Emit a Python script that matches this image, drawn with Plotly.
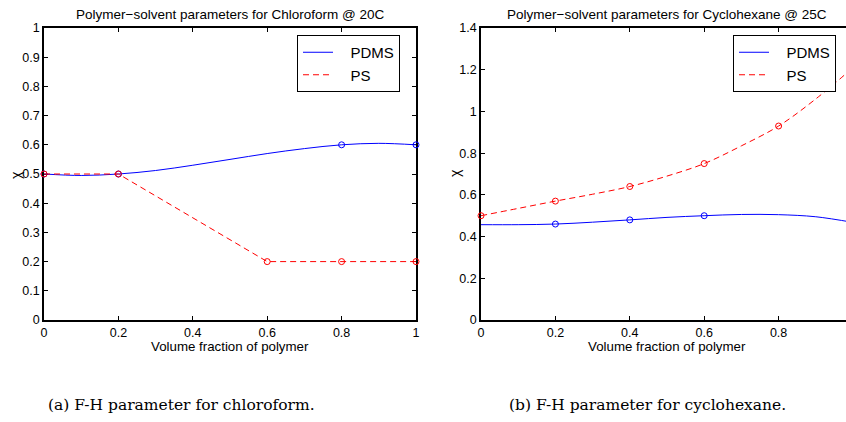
import plotly.graph_objects as go

# ---- Chloroform @ 20C ----
chl_pdms_x = [0.0, 0.2, 0.8, 1.0]
chl_pdms_y = [0.5, 0.5, 0.6, 0.6]
chl_pdms_fit_x = [0.0, 0.1, 0.2, 0.3, 0.4, 0.5, 0.6, 0.7, 0.8, 0.9, 1.0]
chl_pdms_fit_y = [0.5, 0.495, 0.5, 0.512, 0.53, 0.55, 0.57, 0.587, 0.6, 0.605, 0.6]
chl_ps_x = [0.0, 0.2, 0.6, 0.8, 1.0]
chl_ps_y = [0.5, 0.5, 0.2, 0.2, 0.2]

# ---- Cyclohexane @ 25C ----
cyc_pdms_x = [0.2, 0.4, 0.6]
cyc_pdms_y = [0.46, 0.48, 0.50]
cyc_pdms_fit_x = [0.0, 0.1, 0.2, 0.3, 0.4, 0.5, 0.6, 0.7, 0.8, 0.9, 1.0]
cyc_pdms_fit_y = [0.457, 0.457, 0.46, 0.469, 0.48, 0.492, 0.50, 0.506, 0.505, 0.495, 0.468]
cyc_ps_x = [0.0, 0.2, 0.4, 0.6, 0.8]
cyc_ps_y = [0.5, 0.57, 0.64, 0.75, 0.93]
cyc_ps_fit_x = [0.0, 0.1, 0.2, 0.3, 0.4, 0.5, 0.6, 0.7, 0.8, 0.9, 1.0]
cyc_ps_fit_y = [0.5, 0.535, 0.57, 0.603, 0.64, 0.69, 0.75, 0.835, 0.93, 1.06, 1.21]

series_names = ["PDMS", "PS"]

chl_yticks = [0, 0.1, 0.2, 0.3, 0.4, 0.5, 0.6, 0.7, 0.8, 0.9, 1]
chl_xticks = [0, 0.2, 0.4, 0.6, 0.8, 1]
cyc_yticks = [0, 0.2, 0.4, 0.6, 0.8, 1, 1.2, 1.4]
cyc_xticks = [0, 0.2, 0.4, 0.6, 0.8, 1]

BLUE = "#0000ff"
RED = "#ff0000"
SANS = "Liberation Sans, Arial, Helvetica, sans-serif"
SERIF = "DejaVu Serif, Liberation Serif, serif"
W, H = 846, 422
PAD = "\u00a0\u00a0\u00a0"  # gap between legend line sample and its label


def px(x):
    return x / W


def py(y):
    return 1 - y / H


fig = go.Figure()

# left panel
fig.add_trace(go.Scatter(x=chl_pdms_fit_x, y=chl_pdms_fit_y, mode="lines", name=PAD + series_names[0],
                         line=dict(color=BLUE, width=1, shape="spline"),
                         xaxis="x", yaxis="y", legend="legend"))
fig.add_trace(go.Scatter(x=chl_ps_x, y=chl_ps_y, mode="lines", name=PAD + series_names[1],
                         line=dict(color=RED, width=1, dash="6px,4px"),
                         xaxis="x", yaxis="y", legend="legend"))
fig.add_trace(go.Scatter(x=chl_pdms_x, y=chl_pdms_y, mode="markers", showlegend=False,
                         marker=dict(symbol="circle-open", size=6, color=BLUE, line=dict(width=1)),
                         cliponaxis=False, xaxis="x", yaxis="y"))
fig.add_trace(go.Scatter(x=chl_ps_x, y=chl_ps_y, mode="markers", showlegend=False,
                         marker=dict(symbol="circle-open", size=6, color=RED, line=dict(width=1)),
                         cliponaxis=False, xaxis="x", yaxis="y"))

# right panel
fig.add_trace(go.Scatter(x=cyc_pdms_fit_x, y=cyc_pdms_fit_y, mode="lines", name=PAD + series_names[0],
                         line=dict(color=BLUE, width=1, shape="spline"),
                         xaxis="x2", yaxis="y2", legend="legend2"))
fig.add_trace(go.Scatter(x=cyc_ps_fit_x, y=cyc_ps_fit_y, mode="lines", name=PAD + series_names[1],
                         line=dict(color=RED, width=1, dash="6px,4px", shape="spline"),
                         xaxis="x2", yaxis="y2", legend="legend2"))
fig.add_trace(go.Scatter(x=cyc_pdms_x, y=cyc_pdms_y, mode="markers", showlegend=False,
                         marker=dict(symbol="circle-open", size=6, color=BLUE, line=dict(width=1)),
                         cliponaxis=False, xaxis="x2", yaxis="y2"))
fig.add_trace(go.Scatter(x=cyc_ps_x, y=cyc_ps_y, mode="markers", showlegend=False,
                         marker=dict(symbol="circle-open", size=6, color=RED, line=dict(width=1)),
                         cliponaxis=False, xaxis="x2", yaxis="y2"))

axis_common = dict(showgrid=False, zeroline=False, showline=True, linecolor="black",
                   linewidth=1.5, ticks="inside", ticklen=4, tickcolor="black",
                   tickwidth=1, layer="below traces", automargin=False,
                   tickfont=dict(family=SANS, size=12.5, color="black"))

x_left = (44, 416)
x_right0 = 481
unit = x_left[1] - x_left[0]
y_top, y_bot = 28, 320

legend_common = dict(yanchor="top", xanchor="left", bgcolor="white", bordercolor="black",
                     borderwidth=1, font=dict(family=SANS, size=15, color="black"),
                     tracegroupgap=0)

fig.update_layout(
    template="none",
    width=W, height=H,
    margin=dict(l=0, r=0, t=0, b=0, pad=0, autoexpand=False),
    paper_bgcolor="white", plot_bgcolor="white",
    xaxis=dict(domain=[px(x_left[0]), px(x_left[1])], range=[0, 1], tickvals=chl_xticks,
               ticktext=[f"{v:g}" for v in chl_xticks], mirror="ticks", anchor="y", **axis_common),
    yaxis=dict(domain=[py(y_bot), py(y_top)], range=[0, 1], tickvals=chl_yticks,
               ticktext=[f"{v:g}" for v in chl_yticks], mirror="ticks", anchor="x", **axis_common),
    xaxis2=dict(domain=[px(x_right0), 1.0], range=[0, (W - x_right0) / unit], tickvals=cyc_xticks,
                ticktext=[f"{v:g}" for v in cyc_xticks], mirror="ticks", anchor="y2", **axis_common),
    yaxis2=dict(domain=[py(y_bot), py(y_top)], range=[0, 1.4], tickvals=cyc_yticks,
                ticktext=[f"{v:g}" for v in cyc_yticks], mirror=False, anchor="x2", **axis_common),
    legend=dict(x=px(297), y=py(35), **legend_common),
    legend2=dict(x=px(733), y=py(35), **legend_common),
    showlegend=True,
)

left_c = (x_left[0] + x_left[1]) / 2
right_c = x_right0 + unit / 2


def note(text, x, y, size, family=SANS, angle=0):
    fig.add_annotation(text=text, x=px(x), y=py(y), xref="paper", yref="paper",
                       xanchor="center", yanchor="middle", showarrow=False,
                       textangle=angle, font=dict(family=family, size=size, color="black"))


note("Polymer\u2212solvent parameters for Chloroform @ 20C", left_c, 14, 13.5)
note("Polymer\u2212solvent parameters for Cyclohexane @ 25C", right_c, 14, 13.5)
note("Volume fraction of polymer", left_c, 346, 13.3)
note("Volume fraction of polymer", right_c, 346, 13.3)
note("\u03c7", 16, 175, 14, angle=-90)
note("\u03c7", 455, 173, 14, angle=-90)
note("(a) F-H parameter for chloroform.", 181, 405, 15.5, family=SERIF)
note("(b) F-H parameter for cyclohexane.", 647, 405, 15.5, family=SERIF)

fig.write_html("out.html")
